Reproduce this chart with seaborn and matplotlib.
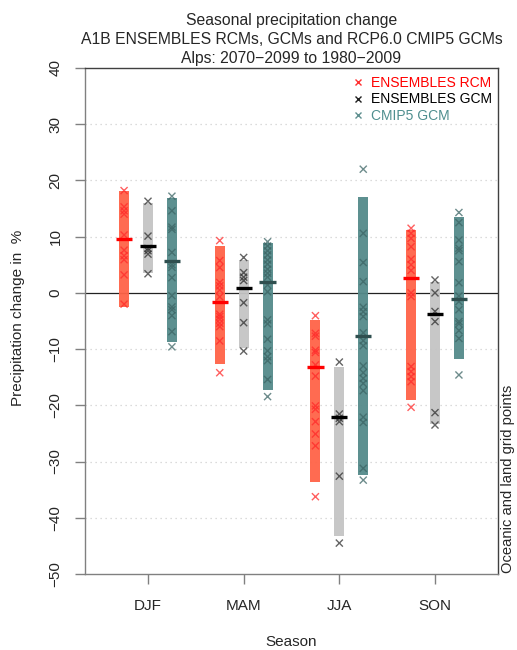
import numpy as np
import pandas as pd
import matplotlib
matplotlib.use("Agg")
import matplotlib.pyplot as plt
from matplotlib.lines import Line2D
import seaborn as sns

# ---------------- data ----------------
seasons = ["DJF", "MAM", "JJA", "SON"]
sources = ["ENSEMBLES RCM", "ENSEMBLES GCM", "CMIP5 GCM"]

rcm_djf = [18.2, 15.3, 14.6, 14.0, 10.3, 7.6, 6.6, 5.9, 3.2, -2.0]
rcm_mam = [9.3, 5.75, 4.5, 1.85, 1.25, 0.5, -0.7, -3.8, -4.2, -4.7, -5.4, -6.0, -8.55, -14.2]
rcm_jja = [-4.05, -7.2, -7.7, -10.2, -10.6, -12.8, -14.8, -20.1, -20.7, -22.9, -25.1, -27.2, -36.25]
rcm_son = [11.5, 10.6, 9.7, 8.2, 6.0, 5.0, 4.0, 0.0, -0.65, -13.1, -14.0, -14.9, -15.8, -20.35]

gcm_djf = [16.3, 10.1, 7.9, 7.5, 6.9, 3.4]
gcm_mam = [6.3, 3.6, 2.8, 2.2, -1.75, -5.3, -10.35]
gcm_jja = [-12.3, -21.55, -22.3, -22.9, -32.6, -44.5]
gcm_son = [2.3, 0.0, -3.3, -5.1, -21.3, -23.5]

cmip_djf = [17.2, 14.6, 11.7, 11.3, 7.2, 5.0, 4.55, 2.7, -0.5, -2.5, -3.0, -4.05, -6.9, -9.6]
cmip_mam = [9.1, 8.35, 7.5, 6.75, 5.85, 5.1, 4.2, 3.5, 2.8, 1.4, 0.2, -4.8, -5.5, -8.25,
            -10.3, -11.35, -12.05, -15.4, -18.45]
cmip_jja = [22.0, 10.6, 5.4, 2.0, -2.55, -3.35, -4.2, -7.1, -8.5, -9.4, -13.0, -14.2, -15.2,
            -16.1, -17.4, -22.1, -23.05, -31.2, -33.3]
cmip_son = [14.3, 12.5, 9.4, 7.95, 7.5, 5.55, 1.8, -0.55, -1.55, -3.0, -5.1, -5.5, -6.7, -8.1, -14.6]

# bar ranges (low, high) and ensemble means per season
rcm_low = [-2.5, -12.65, -33.6, -19.05]
rcm_high = [18.2, 8.35, -4.9, 11.2]
rcm_mean = [9.5, -1.7, -13.2, 2.6]

gcm_low = [3.6, -9.8, -43.3, -23.3]
gcm_high = [15.9, 5.8, -13.2, 2.0]
gcm_mean = [8.3, 0.95, -22.0, -3.7]

cmip_low = [-8.8, -17.2, -32.4, -11.8]
cmip_high = [16.8, 8.8, 17.1, 13.55]
cmip_mean = [5.6, 1.95, -7.65, -1.1]

yticks = [40, 30, 20, 10, 0, -10, -20, -30, -40, -50]

# ---------------- build tidy table ----------------
offsets = {"ENSEMBLES RCM": -0.25, "ENSEMBLES GCM": 0.0, "CMIP5 GCM": 0.25}
points = {
    "ENSEMBLES RCM": [rcm_djf, rcm_mam, rcm_jja, rcm_son],
    "ENSEMBLES GCM": [gcm_djf, gcm_mam, gcm_jja, gcm_son],
    "CMIP5 GCM": [cmip_djf, cmip_mam, cmip_jja, cmip_son],
}
rows = []
for src, lists in points.items():
    for i, vals in enumerate(lists):
        for v in vals:
            rows.append({"season": seasons[i], "source": src,
                         "x": i + 1 + offsets[src], "value": v})
df = pd.DataFrame(rows)

summ = pd.DataFrame({
    "source": np.repeat(sources, 4),
    "season": seasons * 3,
    "low": rcm_low + gcm_low + cmip_low,
    "high": rcm_high + gcm_high + cmip_high,
    "mean": rcm_mean + gcm_mean + cmip_mean,
})
summ["x"] = [seasons.index(s) + 1 + offsets[src] for s, src in zip(summ["season"], summ["source"])]

bar_col = {"ENSEMBLES RCM": "#FF6347", "ENSEMBLES GCM": "#C4C4C4", "CMIP5 GCM": "#548A8A"}
pt_col = {"ENSEMBLES RCM": "#FF2A2A", "ENSEMBLES GCM": "#303030", "CMIP5 GCM": "#3C6565"}
mean_col = {"ENSEMBLES RCM": "#FF0000", "ENSEMBLES GCM": "#000000", "CMIP5 GCM": "#2F4F4F"}
leg_text_col = {"ENSEMBLES RCM": "#FF0000", "ENSEMBLES GCM": "#000000", "CMIP5 GCM": "#4F8F8F"}
leg_mark_col = {"ENSEMBLES RCM": "#FF3030", "ENSEMBLES GCM": "#202020", "CMIP5 GCM": "#5F8F8F"}

# ---------------- plot ----------------
sns.set_style("ticks")
plt.rcParams["font.family"] = ["Liberation Sans", "DejaVu Sans"]

W, H = 517, 650
fig = plt.figure(figsize=(W / 100, H / 100), dpi=100)
L, R, T, B = 85, 498, 68, 574
ax = fig.add_axes([L / W, 1 - B / H, (R - L) / W, (B - T) / H])

ax.set_xlim(0.3415, 4.6585)
ax.set_ylim(-50, 40)

# grid + zero line
for g in [30, 20, 10, -10, -20, -30, -40]:
    ax.axhline(g, color="#D0D0D0", lw=0.9, ls=(0, (1, 3)), zorder=0)
ax.axhline(0, color="#222222", lw=0.9, zorder=1)

# range bars
for src in sources:
    s = summ[summ["source"] == src]
    ax.vlines(s["x"], s["low"], s["high"], colors=bar_col[src], lw=7.2,
              capstyle="butt", zorder=2, alpha=0.95)

# points
sns.scatterplot(data=df, x="x", y="value", hue="source", palette=pt_col,
                marker="x", s=26, linewidth=1.0, legend=False, ax=ax, zorder=3,
                alpha=0.75)

# means
for src in sources:
    s = summ[summ["source"] == src]
    ax.hlines(s["mean"], s["x"] - 0.085, s["x"] + 0.085, colors=mean_col[src],
              lw=2.4, zorder=4)

# axes styling
ax.set_xticks([1, 2, 3, 4])
ax.set_xticklabels(seasons, fontsize=11)
ax.set_yticks(yticks)
ax.set_yticklabels([str(t).replace("-", "\u2212") for t in yticks], fontsize=11,
                   rotation=90, va="center")
ax.tick_params(axis="both", length=7.2, width=1.0, color="#808080", direction="out")
ax.tick_params(axis="y", pad=9)
ax.tick_params(axis="x", pad=11)
ax.set_xlabel("")
ax.set_ylabel("")
for side in ["left", "bottom"]:
    ax.spines[side].set_color("#808080")
    ax.spines[side].set_linewidth(1.0)
for side in ["top", "right"]:
    ax.spines[side].set_visible(True)
    ax.spines[side].set_color("#404040")
    ax.spines[side].set_linewidth(1.0)

# legend
handles = [Line2D([], [], ls="none", marker="x", markersize=5, mew=1.0,
                  color=leg_mark_col[s]) for s in sources]
leg = ax.legend(handles, sources, loc="upper right", bbox_to_anchor=(0.985, 0.985),
                frameon=False, fontsize=10, handlelength=0.6, handletextpad=0.6,
                labelspacing=0.2, borderpad=0, borderaxespad=0,
                labelcolor=[leg_text_col[s] for s in sources])

# titles and labels
fig.text(291.5 / W, 1 - 20 / H, "Seasonal precipitation change", ha="center", va="center", fontsize=11.3)
fig.text(291.5 / W, 1 - 39.5 / H, "A1B ENSEMBLES RCMs, GCMs and RCP6.0 CMIP5 GCMs",
         ha="center", va="center", fontsize=11.3)
fig.text(291.5 / W, 1 - 58.5 / H, "Alps: 2070\u22122099 to 1980\u22122009", ha="center", va="center", fontsize=11.3)
fig.text(18 / W, 1 - 318 / H, "Precipitation change in  %", rotation=90, ha="center", va="center", fontsize=11)
fig.text(291.5 / W, 1 - 642 / H, "Season", ha="center", va="center", fontsize=11)
fig.text(508 / W, 1 - 573 / H, "Oceanic and land grid points", rotation=90, ha="center", va="bottom", fontsize=10.6)

fig.savefig("out.png", dpi=100)
